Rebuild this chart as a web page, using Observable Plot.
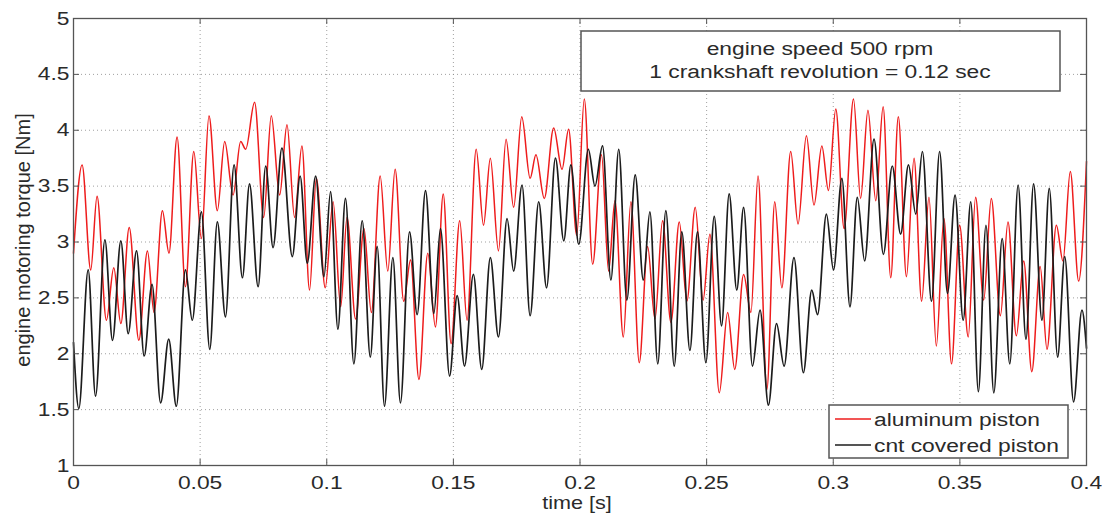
<!DOCTYPE html>
<html><head><meta charset="utf-8">
<script src="https://cdn.jsdelivr.net/npm/d3@7"></script>
<script src="https://cdn.jsdelivr.net/npm/@observablehq/plot@0.6"></script>
<style>body{margin:0;background:#fff;} #chart{position:relative;width:1104px;height:514px;}</style>
</head><body><div id="chart"></div>
<script>
// ---- data (turning points of each trace) ----
const alumT = [0,0.0034,0.0068,0.0093,0.0130,0.0159,0.0187,0.0220,0.0258,0.0292,0.0318,0.0351,0.0377,0.0409,0.0442,0.0475,
0.0505,0.0535,0.0568,0.0597,0.0630,0.0660,0.0680,0.0715,0.0751,0.0781,0.0814,0.0843,0.0873,0.0902,0.0932,0.0959,0.0994,
0.1025,0.1055,0.1080,0.1114,0.1147,0.1176,0.1211,0.1241,0.1270,0.1304,0.1331,0.1364,0.1399,0.1429,0.1460,0.1491,
0.1525,0.1554,0.1590,0.1619,0.1646,0.1678,0.1708,0.1738,0.1770,0.1803,0.1826,0.1859,0.1896,0.1929,0.1955,0.1987,
0.2017,0.2050,0.2085,0.2113,0.2138,0.2171,0.2201,0.2234,0.2267,0.2296,0.2326,0.2359,0.2392,0.2422,0.2455,0.2486,
0.2513,0.2550,0.2583,0.2611,0.2646,0.2675,0.2703,0.2738,0.2769,0.2797,0.2832,0.2861,0.2894,0.2924,0.2955,0.2981,
0.3010,0.3043,0.3080,0.3108,0.3137,0.3168,0.3197,0.3227,0.3257,0.3289,0.3319,0.3349,0.3378,0.3407,0.3437,0.3467,
0.3499,0.3533,0.3562,0.3594,0.3624,0.3660,0.3690,0.3723,0.3752,0.3784,0.3817,0.3844,0.3881,0.3907,0.3936,0.3969,0.4000];
const alumV = [2.90,3.69,2.75,3.41,2.30,2.77,2.27,3.13,2.12,2.92,2.37,3.28,2.90,3.94,2.60,3.81,
3.03,4.13,3.28,3.90,3.42,3.90,3.83,4.25,3.22,4.13,3.42,4.05,3.22,3.86,2.57,3.57,2.59,
3.36,2.42,3.22,2.31,3.12,2.37,3.59,2.74,3.65,2.47,2.84,1.77,2.90,2.24,3.43,2.09,
3.19,2.30,3.83,3.15,3.75,2.92,3.92,3.31,4.12,3.57,3.78,3.39,4.02,3.65,4.01,3.06,
4.28,2.80,3.78,2.74,3.37,2.15,3.36,1.92,2.96,2.31,3.19,2.28,3.18,2.47,3.31,2.48,
3.07,1.65,2.37,1.86,2.71,2.37,3.59,1.68,3.36,2.59,3.81,3.16,3.95,3.33,3.86,3.46,
4.19,3.12,4.28,3.39,4.18,3.37,4.21,2.68,4.12,2.69,3.75,2.47,3.40,2.07,3.21,1.91,
3.15,2.15,3.40,2.48,3.39,2.34,3.18,2.16,2.83,1.84,2.78,2.04,3.15,2.83,3.63,2.65,3.72];

const cntT = [0,0.0021,0.0058,0.0087,0.0124,0.0154,0.0187,0.0216,0.0249,0.0279,0.0310,0.0344,0.0376,0.0406,0.0442,0.0469,
0.0505,0.0538,0.0568,0.0600,0.0634,0.0667,0.0695,0.0729,0.0759,0.0788,0.0823,0.0864,0.0895,0.0923,0.0956,0.0989,
0.1015,0.1044,0.1074,0.1107,0.1140,0.1172,0.1199,0.1228,0.1261,0.1291,0.1327,0.1357,0.1390,0.1423,0.1449,0.1485,
0.1515,0.1544,0.1579,0.1612,0.1646,0.1678,0.1712,0.1738,0.1771,0.1803,0.1837,0.1868,0.1903,0.1936,0.1964,0.1995,
0.2033,0.2059,0.2089,0.2122,0.2153,0.2185,0.2218,0.2250,0.2276,0.2307,0.2339,0.2372,0.2402,0.2434,0.2464,0.2497,
0.2530,0.2559,0.2589,0.2619,0.2646,0.2681,0.2711,0.2744,0.2776,0.2806,0.2845,0.2882,0.2915,0.2938,0.2973,0.3001,
0.3034,0.3066,0.3095,0.3124,0.3161,0.3198,0.3233,0.3266,0.3297,0.3326,0.3352,0.3388,0.3420,0.3451,0.3481,0.3513,
0.3543,0.3573,0.3603,0.3634,0.3667,0.3697,0.3730,0.3761,0.3791,0.3824,0.3853,0.3886,0.3914,0.3949,0.3982,0.4000];
const cntV = [2.10,1.51,2.75,1.62,3.02,2.12,3.01,2.18,2.92,1.98,2.62,1.56,2.13,1.53,2.75,2.30,
3.27,2.04,3.18,2.33,3.69,2.68,3.52,2.60,3.68,2.95,3.84,2.87,3.59,2.81,3.59,2.69,
3.45,2.22,3.39,1.91,3.19,1.97,2.96,1.53,2.86,1.56,3.09,2.35,3.46,2.36,3.12,1.80,
2.52,1.89,2.71,1.86,2.86,2.15,3.21,2.74,3.51,2.34,3.36,2.59,3.75,3.01,3.69,2.98,
3.83,3.50,3.86,2.66,3.83,2.48,3.60,2.66,3.27,1.91,3.28,1.89,3.09,2.03,3.09,1.92,
3.23,2.25,3.43,2.57,3.31,1.89,2.39,1.54,2.27,1.89,2.86,1.83,2.57,2.35,3.25,2.75,
3.57,2.42,3.40,2.83,3.92,2.89,3.68,3.07,3.69,3.25,3.81,2.47,3.81,2.54,3.42,2.30,
3.36,1.66,3.15,1.65,3.03,1.91,3.51,2.13,3.52,2.30,3.48,1.97,2.87,1.57,2.39,2.05];

const xTicks = [0,0.05,0.1,0.15,0.2,0.25,0.3,0.35,0.4];
const xTickLabels = ["0","0.05","0.1","0.15","0.2","0.25","0.3","0.35","0.4"];
const yTicks = [1,1.5,2,2.5,3,3.5,4,4.5,5];
const yTickLabels = ["1","1.5","2","2.5","3","3.5","4","4.5","5"];
const seriesNames = ["aluminum piston","cnt covered piston"];
const seriesColors = ["#ee1c1c","#1c1c1c"];
const annotationLines = ["engine speed 500 rpm","1 crankshaft revolution = 0.12 sec"];
const xLabel = "time [s]";
const yLabel = "engine motoring torque [Nm]";

// ---- build ----
const alum = alumT.map((t,i)=>({t, v: alumV[i]}));
const cnt = cntT.map((t,i)=>({t, v: cntV[i]}));

const W=1104, H=514, mL=73, mR=18, mT=18, mB=49;
const fw = W-mL-mR, fh = H-mT-mB, tk = 6;
const FONT = "'Liberation Sans', Arial, Helvetica, sans-serif";
const SX = 1.2; // horizontal stretch of the text in the reference

const plot = Plot.plot({
  width: W, height: H,
  marginLeft: mL, marginRight: mR, marginTop: mT, marginBottom: mB,
  style: {fontFamily: FONT, fontSize: "19px", color: "#2a2a2a", background: "#fff"},
  x: {domain: [0, 0.4]},
  y: {domain: [1, 5]},
  marks: [
    Plot.gridX(xTicks, {stroke: "#888", strokeOpacity: 0.8, strokeDasharray: "1,3"}),
    Plot.gridY(yTicks, {stroke: "#888", strokeOpacity: 0.8, strokeDasharray: "1,3"}),
    Plot.line(alum, {x: "t", y: "v", stroke: seriesColors[0], strokeWidth: 1.5, curve: "monotone-x"}),
    Plot.line(cnt, {x: "t", y: "v", stroke: seriesColors[1], strokeWidth: 1.7, curve: "monotone-x"}),
    Plot.ruleX(xTicks, {x: d => d, insetTop: fh - tk, stroke: "#555"}),
    Plot.ruleX(xTicks, {x: d => d, insetBottom: fh - tk, stroke: "#555"}),
    Plot.ruleY(yTicks, {y: d => d, insetRight: fw - tk, stroke: "#555"}),
    Plot.ruleY(yTicks, {y: d => d, insetLeft: fw - tk, stroke: "#555"}),
    Plot.axisX(xTicks, {tickSize: 0, tickPadding: 10, tickFormat: d => xTickLabels[xTicks.indexOf(d)], label: null}),
    Plot.axisY(yTicks, {tickSize: 0, tickPadding: 4, tickFormat: d => yTickLabels[yTicks.indexOf(d)], label: null}),
    Plot.frame({stroke: "#555", strokeWidth: 1.3})
  ]
});
document.getElementById("chart").append(plot);

// stretch tick labels horizontally about their anchor
plot.querySelectorAll('g[aria-label$="tick label"] text').forEach(t => {
  const b = t.getBBox();
  const a = getComputedStyle(t).textAnchor;
  const ax = a === "middle" ? b.x + b.width/2 : a === "end" ? b.x + b.width : b.x;
  const prev = t.getAttribute("transform") || "";
  t.setAttribute("transform", `${prev} translate(${ax},0) scale(${SX},1) translate(${-ax},0)`);
});

const svg = d3.select(plot);
const ov = svg.append("g").attr("font-family", FONT).attr("font-size", 19).attr("fill", "#2a2a2a");

// axis titles
ov.append("text").attr("transform", "translate(30,240) rotate(-90)")
  .attr("font-size", 20).attr("text-anchor", "middle").text(yLabel);
ov.append("text").attr("transform", `translate(577,509) scale(${SX},1)`)
  .attr("font-size", 18).attr("text-anchor", "middle").text(xLabel);

// annotation box
ov.append("rect").attr("x", 581).attr("y", 31).attr("width", 479).attr("height", 60)
  .attr("fill", "#fff").attr("stroke", "#555").attr("stroke-width", 1.5);
annotationLines.forEach((s, i) => {
  ov.append("text").attr("transform", `translate(820,${55 + i*23}) scale(${SX},1)`)
    .attr("text-anchor", "middle").text(s);
});

// legend
ov.append("rect").attr("x", 829).attr("y", 405).attr("width", 239).attr("height", 53)
  .attr("fill", "#fff").attr("stroke", "#555").attr("stroke-width", 1.5);
seriesNames.forEach((s, i) => {
  const yy = 419 + i*26;
  ov.append("line").attr("x1", 835).attr("x2", 871).attr("y1", yy).attr("y2", yy)
    .attr("stroke", seriesColors[i]).attr("stroke-width", 1.4);
  ov.append("text").attr("text-anchor", "start")
    .attr("transform", `translate(874,${yy + 7}) scale(${SX},1)`).text(s);
});
</script>
</body></html>
